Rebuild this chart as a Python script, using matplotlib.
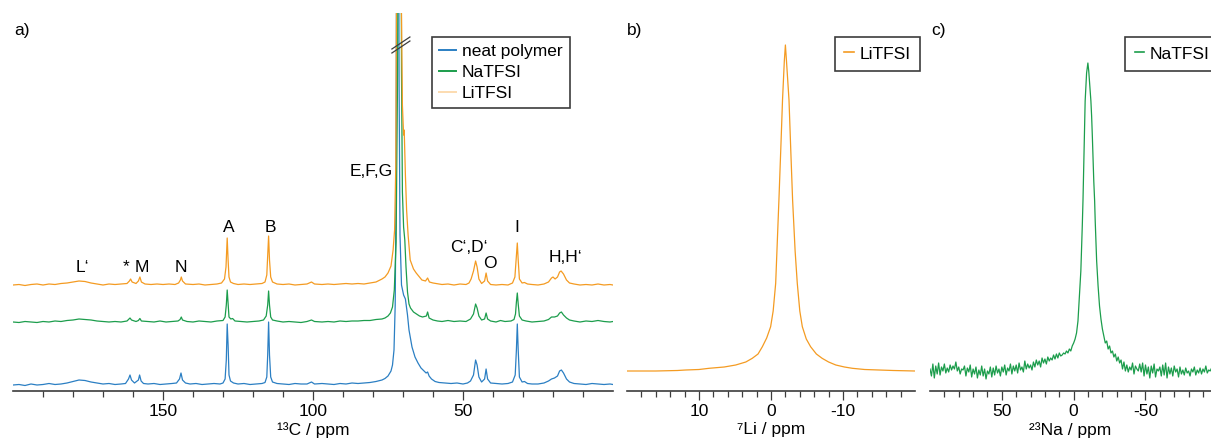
"""Solid-state NMR spectra: 13C of the polymer electrolytes, 7Li and 23Na"""
import matplotlib.pyplot as plt
from matplotlib.lines import Line2D

plt.rcParams['font.family'] = ['Liberation Sans', 'DejaVu Sans']
plt.rcParams['font.size'] = 12.5
plt.rcParams['axes.unicode_minus'] = False

# 13C spectra as (ppm, intensity above its own baseline)
NEAT_C13 = [
    (200, 0), (198, 0.5), (196, -0.5), (194, 1), (192, 0), (190, 0.5), (188, 1.5), (186, 0.5),
    (184, 1), (182, 2), (180, 3.5), (178, 5), (176, 4.5), (174, 3), (172, 2), (170, 1),
    (168, 1.5), (166, 0.5), (164, 1), (162.5, 1.5), (161.5, 6), (161, 10), (160.5, 5), (159.5, 2),
    (158.2, 5), (157.8, 10), (157.3, 4), (156.5, 1.5), (155, 1), (153, 1.5), (151, 0.5), (149, 1),
    (147, 1.5), (145.5, 2), (144.5, 6), (144, 12), (143.5, 5), (142.5, 2), (141, 1), (139, 1.5),
    (137, 0.5), (135, 1), (133, 1.5), (131, 1), (130, 2), (129.3, 6), (128.9, 25), (128.6, 61),
    (128.3, 40), (128, 10), (127.5, 4), (126.5, 2), (125, 1), (123, 1.5), (121, 0.5), (119, 1),
    (117, 1.5), (116, 2.5), (115.4, 8), (115.1, 30), (114.8, 63), (114.5, 30), (114.1, 8), (113.5, 3),
    (112, 1.5), (110, 1), (108, 0.5), (106, 1.5), (104, 1), (102, 1), (100.5, 3), (99.5, 1),
    (97, 1.5), (95, 1), (93, 0.5), (91, 1.5), (89, 1), (87, 2), (85, 1.5), (83, 2), (81, 2.5),
    (79, 3.5), (77, 5), (76, 6.5), (75, 9), (74, 14), (73.5, 20), (73, 35), (72.6, 80), (72.3, 200),
    (72, 700), (71.6, 700), (71.3, 300), (71, 150), (70.5, 100), (69.8, 90), (69.2, 86), (68.5, 70),
    (68, 55), (67, 38), (66, 28), (65, 22), (64, 17), (63, 14), (62.3, 12), (61.8, 13), (61.3, 9),
    (60.5, 6), (59.3, 3.5), (58, 2.5), (56, 2), (54, 1.5), (52, 2), (50, 1), (48.5, 2), (47.5, 4),
    (46.5, 10), (45.8, 25), (45.3, 20), (44.7, 8), (43.8, 3), (42.8, 6), (42.3, 16), (41.8, 6),
    (40.8, 2), (39, 1.5), (37, 1), (35, 1.5), (33.5, 3), (32.6, 10), (32.2, 35), (31.9, 61),
    (31.6, 35), (31.2, 8), (30.3, 3), (29.5, 3.5), (28.5, 1.5), (27, 1), (25, 1), (23, 2),
    (21.5, 4), (20.5, 6), (19.5, 7), (18.5, 9), (17.8, 14), (17.2, 15), (16.5, 12), (15.5, 6),
    (14.5, 3), (13, 1.5), (11, 1), (9, 0.5), (7, 1.5), (5, 1), (3, 0.5), (1, 1), (0, 0.5)]

NATFSI_C13 = [
    (200, 0), (198, -0.5), (196, 0.5), (194, 0), (192, -0.5), (190, 0.5), (188, 0), (186, 1),
    (184, 0.5), (182, 1.5), (180, 2), (178, 3), (176, 2.5), (174, 2), (172, 1), (170, 0.5),
    (168, 0), (166, 0.5), (164, 0), (162, 1), (161, 4), (160.5, 2), (159, 0.5), (158.2, 1.5),
    (157.7, 3.5), (157.2, 1), (155, 0.5), (153, 0), (151, 1), (149, 0), (147, 0.5), (145, 1),
    (144.3, 2.5), (143.9, 5), (143.5, 2), (142, 0.5), (140, 0), (138, 1), (136, 0.5), (134, 0),
    (132, 1), (130, 1.5), (129.3, 5), (128.9, 17), (128.6, 32), (128.3, 18), (128, 5), (127.4, 3),
    (126.8, 3.5), (126, 1), (124, 0.5), (122, 0), (120, 0.5), (118, 1), (116.5, 2), (115.6, 6),
    (115.1, 17), (114.8, 31), (114.5, 17), (114.1, 5), (113.5, 2), (112, 1), (110, 0), (108, 0.5),
    (106, 0), (104, -0.5), (102, 0.5), (100.5, 2), (99.5, 0.5), (97, 0), (95, 0.5), (93, 0),
    (91, 1), (89, 0.5), (87, 1), (85, 1), (83, 1.5), (81, 1.5), (79, 2.5), (77, 3), (76, 4),
    (75, 6), (74.2, 9), (73.5, 15), (72.9, 32), (72.3, 80), (71.8, 250), (71.3, 700), (70.8, 700),
    (70.5, 250), (70.2, 130), (69.8, 95), (69.4, 82), (69, 55), (68.5, 30), (68, 18), (67.5, 14),
    (66.5, 10), (65.5, 8), (64.5, 6), (63.5, 5), (62.2, 6), (61.8, 10), (61.3, 4), (60, 2),
    (58.5, 1), (57, 0.5), (55, 1.5), (53, 0.5), (51, 1), (49, 0.5), (47.5, 3), (46.5, 8),
    (45.8, 18), (45.3, 14), (44.7, 6), (43.8, 2), (42.8, 3), (42.3, 9), (41.8, 3), (40.8, 1),
    (39, 0), (37.5, 1.5), (36, 0.5), (34, 1), (33, 2.5), (32.5, 8), (32.2, 20), (31.9, 29),
    (31.6, 18), (31.2, 6), (30.3, 2), (29, 1), (27, 0), (25, 0.5), (23, 1), (21.5, 2.5),
    (20.5, 5), (19.5, 5), (18.5, 6), (17.8, 9), (17.2, 10), (16.5, 7), (15.5, 4), (14.5, 2),
    (13, 1), (11, 0), (9, 1), (7, 0.5), (5, 1.5), (3, 0.5), (1, 0), (0, 0.5)]

LITFSI_C13 = [
    (200, 0), (198, 0.5), (196, -0.5), (194, 0.5), (192, 1), (190, 0), (188, 1), (186, 0.5),
    (184, 1.5), (182, 2), (180, 3), (178, 4), (176, 3.5), (174, 2), (172, 1), (170, 0),
    (168, 1), (166, 0.5), (164, 1), (162, 1.5), (161.2, 4), (160.8, 6), (160.3, 3), (159, 1.5),
    (158.2, 4), (157.7, 8), (157.2, 3), (156, 1), (154, 0.5), (152, 1), (150, 0.5), (148, 1),
    (146, 0.5), (144.8, 2), (144.2, 5), (143.9, 8), (143.5, 4), (142.5, 1), (140, 0.5), (138, 1),
    (136, 0), (134, 0.5), (132, 1), (130.5, 2), (129.5, 6), (129, 18), (128.6, 47), (128.3, 25),
    (128, 8), (127.5, 3), (126.5, 1.5), (125, 0.5), (123, 1), (121, 0.5), (119, 1), (117, 1.5),
    (116, 3), (115.4, 10), (115.1, 30), (114.8, 49), (114.5, 25), (114.1, 8), (113.5, 3), (112, 1),
    (110, 0.5), (108, 1), (106, 0), (104, 0.5), (102, 1), (100.5, 3), (99.5, 1), (97, 0.5),
    (95, 1), (93, 0.5), (91, 1), (89, 1.5), (87, 1), (85, 1.5), (83, 1), (81, 2), (79, 3),
    (78, 4.5), (77, 6), (76, 8), (75, 12), (74, 19), (73.3, 35), (72.8, 55), (72.4, 120), (72, 400),
    (71.5, 800), (71.1, 800), (70.6, 300), (70.2, 180), (69.8, 150), (69.6, 155), (69.2, 110),
    (68.8, 75), (68.3, 50), (67.6, 25), (66.5, 16), (65.6, 12), (64.5, 8), (63.7, 5), (62.5, 4),
    (61.8, 7), (61.2, 3), (60, 2), (59, 1.5), (57, 0.5), (55, 1), (53, 0), (51, 1), (49, 0.5),
    (48, 2), (47.3, 6), (46.5, 14), (45.8, 24), (45.3, 18), (44.7, 6), (43.8, 1.5), (42.8, 4),
    (42.3, 12), (41.8, 4), (40.8, 0.5), (39, 0), (37, 0.5), (35, 0), (33.5, 2), (32.7, 8),
    (32.3, 25), (31.9, 42), (31.6, 25), (31.2, 6), (30.3, 2), (29.5, 2.5), (28.5, 1), (27, 0.5),
    (25, 0), (23, 1), (21.5, 3), (20.5, 7), (20, 8), (19.3, 6), (18.5, 8), (17.8, 13), (17.3, 14),
    (16.5, 11), (15.5, 5), (14.5, 2), (13, 1), (11, 0), (9, 0.5), (7, 0), (5, 1), (3, 0),
    (1, 0.5), (0, 0)]

C13_NAMES = ['neat polymer', 'NaTFSI', 'LiTFSI']

# peak assignments in panel a: (label, ppm, height)
PEAK_LABELS = [
    ('L\u2018', 177, 124), ('*', 162.3, 124), ('M', 157, 124), ('N', 144, 124),
    ('A', 128, 164), ('B', 114.3, 164), ('E,F,G', 80.7, 219),
    ('C\u2018,D\u2018', 48, 144), ('O', 41, 128), ('I', 32, 163), ('H,H\u2018', 15.7, 134)]

# 7Li spectrum of the LiTFSI sample
LI7 = [
    (20, 20), (16, 20), (13, 20.5), (11.85, 21), (10, 21.5), (8.6, 22.7), (6.5, 24), (4.9, 26),
    (3.5, 29), (2.6, 32.7), (1.8, 37), (1.2, 44.3), (0.6, 53), (0.05, 64.3), (-0.3, 80),
    (-0.65, 107.7), (-1.1, 191), (-1.4, 250), (-1.6, 291), (-1.85, 330), (-2.0, 346),
    (-2.15, 330), (-2.5, 291), (-2.75, 240), (-3.0, 191), (-3.35, 140), (-3.65, 107.7),
    (-4.0, 80), (-4.35, 64.3), (-4.9, 52), (-5.5, 44.3), (-6.3, 37), (-7.1, 32.7), (-8, 29),
    (-9, 26), (-10.2, 24), (-11.3, 22.7), (-13, 21.5), (-15, 21), (-17, 20.5), (-20, 20)]

# 23Na spectrum of the NaTFSI sample
NA23 = [
    (100, 22), (99, 15), (98, 27), (97, 13), (96, 25), (95, 17), (94, 28), (93, 16), (92, 24),
    (91, 20), (90, 27), (89, 18), (88, 23), (87, 19), (86, 26), (85, 21), (84, 25), (83, 22),
    (82, 29), (81, 20), (80, 24), (79, 17), (78, 22), (77, 21), (76, 25), (75, 15), (74, 23),
    (73, 19), (72, 26), (71, 14), (70, 22), (69, 17), (68, 24), (67, 13), (66, 21), (65, 16),
    (64, 25), (63, 15), (62, 22), (61, 12), (60, 20), (59, 17), (58, 24), (57, 14), (56, 23),
    (55, 16), (54, 25), (53, 18), (52, 22), (51, 15), (50, 24), (49, 19), (48, 26), (47, 16),
    (46, 23), (45, 20), (44, 27), (43, 17), (42, 25), (41, 20), (40, 26), (39, 18), (38, 28),
    (37, 21), (36, 24), (35, 19), (34, 30), (33, 22), (32, 27), (31, 23), (30, 26), (29, 21),
    (28, 29), (27, 24), (26, 31), (25, 26), (24, 30), (23, 24), (22, 33), (21, 28), (20, 32),
    (19, 27), (18, 34), (17, 30), (16, 33), (15, 31), (14, 36), (13, 32), (12, 37), (11, 33),
    (10, 38), (9, 35), (8, 36), (7, 38), (6, 37), (5, 40), (4, 38), (3, 42), (2, 40), (1, 45),
    (0, 48), (-1, 52), (-2, 58), (-3, 70), (-4, 95), (-5, 120), (-6, 165), (-6.5, 191),
    (-7, 225), (-8, 290), (-9, 318), (-9.9, 328), (-10.5, 320), (-11, 310), (-12, 290),
    (-12.5, 275), (-13, 255), (-14, 210), (-14.6, 190), (-15, 170), (-16, 130), (-17, 105),
    (-18, 85), (-19, 72), (-20, 62), (-21, 55), (-22, 48), (-23, 50), (-24, 42), (-25, 45),
    (-26, 38), (-27, 40), (-28, 34), (-29, 37), (-30, 30), (-31, 34), (-32, 28), (-33, 31),
    (-34, 22), (-35, 29), (-36, 20), (-37, 26), (-38, 19), (-39, 24), (-40, 21), (-41, 28),
    (-42, 17), (-43, 25), (-44, 22), (-45, 20), (-46, 27), (-47, 19), (-48, 28), (-49, 15),
    (-50, 26), (-51, 17), (-52, 24), (-53, 13), (-54, 25), (-55, 18), (-56, 27), (-57, 14),
    (-58, 22), (-59, 20), (-60, 24), (-61, 15), (-62, 26), (-63, 16), (-64, 28), (-65, 13),
    (-66, 24), (-67, 17), (-68, 23), (-69, 15), (-70, 25), (-71, 19), (-72, 22), (-73, 14),
    (-74, 24), (-75, 17), (-76, 21), (-77, 16), (-78, 23), (-79, 18), (-80, 20), (-81, 15),
    (-82, 22), (-83, 19), (-84, 24), (-85, 16), (-86, 21), (-87, 18), (-88, 23), (-89, 17),
    (-90, 22), (-91, 19), (-92, 25), (-93, 18), (-94, 21), (-95, 20), (-96, 23)]

# axis ticks of the three panels
C13_MAJOR = [150, 100, 50]
C13_MINOR = [190, 180, 170, 160, 140, 130, 120, 110, 90, 80, 70, 60, 40, 30, 20, 10]
LI_MAJOR = [10, 0, -10]
LI_MINOR = [18, 16, 14, 12, 8, 6, 4, 2, -2, -4, -6, -8, -12, -14, -16, -18]
NA_MAJOR = [50, 0, -50]
NA_MINOR = [90, 80, 70, 60, 40, 30, 20, 10, -10, -20, -30, -40, -60, -70, -80, -90]

BLUE = '#2b7fc3'
GREEN = '#1c9d4c'
ORANGE = '#f49b22'
PALE_ORANGE = '#fcdcb0'
SPINE = '#3c3c3c'
STACK = [6, 69, 106]   # vertical offsets of the three 13C traces
W, H = 1211, 442       # figure size in pixels


def unzip(points):
    """Split (ppm, value) pairs into two lists"""
    return [p[0] for p in points], [p[1] for p in points]


def new_axis(fig, left, right):
    """Axis placed by pixel edges, all three share bottom and top"""
    return fig.add_axes([left / W, 51 / H, (right - left) / W, 378 / H])


def style_axis(ax, xlim, major, minor, xlabel):
    """Bottom axis only, reversed ppm scale"""
    for side in ('left', 'right', 'top'):
        ax.spines[side].set_visible(False)
    ax.spines['bottom'].set_color(SPINE)
    ax.spines['bottom'].set_linewidth(1.2)
    ax.set_yticks([])
    ax.set_xlim(xlim)
    ax.set_ylim(0, 378)
    ax.set_xticks(major)
    ax.set_xticks(minor, minor=True)
    ax.tick_params(which='major', length=6.5, width=0.9, color=SPINE, pad=3)
    ax.tick_params(which='minor', length=4.3, width=0.9, color=SPINE)
    ax.set_xlabel(xlabel, labelpad=2)
    ax.patch.set_alpha(0)


def add_legend(ax, handles, names, anchor, handlelength, borderpad):
    """Square framed legend"""
    leg = ax.legend(handles, names, loc='upper left', bbox_to_anchor=anchor,
                    frameon=True, fancybox=False, framealpha=1, borderaxespad=0,
                    handlelength=handlelength, handletextpad=0.3, labelspacing=0.33,
                    borderpad=borderpad)
    leg.get_frame().set_edgecolor(SPINE)
    leg.get_frame().set_linewidth(1.2)


def plot():
    """Draw the three panels"""
    fig = plt.figure(figsize=(W / 100, H / 100), dpi=100)

    # a) 13C
    ax = new_axis(fig, 13, 613)
    for points, color, offset in zip([NEAT_C13, NATFSI_C13, LITFSI_C13],
                                     [BLUE, GREEN, ORANGE], STACK):
        ppm, val = unzip(points)
        ax.plot(ppm, [v + offset for v in val], color=color, lw=0.9)
    for text, ppm, height in PEAK_LABELS:
        ax.text(ppm, height, text, ha='center', va='center')
    # axis break over the clipped main peak
    for y0 in (338, 342):
        ax.plot([73.7, 67.7], [y0, y0 + 12], color=SPINE, lw=0.9)
    style_axis(ax, (200, 0), C13_MAJOR, C13_MINOR, '\u00b9\u00b3C / ppm')
    handles = [Line2D([], [], color=c, lw=1.4) for c in (BLUE, GREEN, PALE_ORANGE)]
    add_legend(ax, handles, C13_NAMES, (0.698, 0.937), 1.0, 0.42)
    fig.text(14 / W, 1 - 30 / H, 'a)', va='center')

    # b) 7Li
    ax = new_axis(fig, 627, 915)
    ppm, val = unzip(LI7)
    ax.plot(ppm, val, color=ORANGE, lw=0.9)
    style_axis(ax, (20, -20), LI_MAJOR, LI_MINOR, '\u2077Li / ppm')
    add_legend(ax, [Line2D([], [], color=ORANGE, lw=1.2)], ['LiTFSI'],
               (0.722, 0.937), 0.55, 0.55)
    fig.text(627 / W, 1 - 31 / H, 'b)', va='center')

    # c) 23Na
    ax = new_axis(fig, 930, 1211)
    ppm, val = unzip(NA23)
    ax.plot(ppm, val, color=GREEN, lw=0.9)
    style_axis(ax, (100, -95.6), NA_MAJOR, NA_MINOR, '\u00b2\u00b3Na / ppm')
    add_legend(ax, [Line2D([], [], color=GREEN, lw=1.2)], ['NaTFSI'],
               (0.694, 0.937), 0.55, 0.55)
    fig.text(931 / W, 1 - 31 / H, 'c)', va='center')

    fig.savefig('out.png', dpi=100)


plot()
